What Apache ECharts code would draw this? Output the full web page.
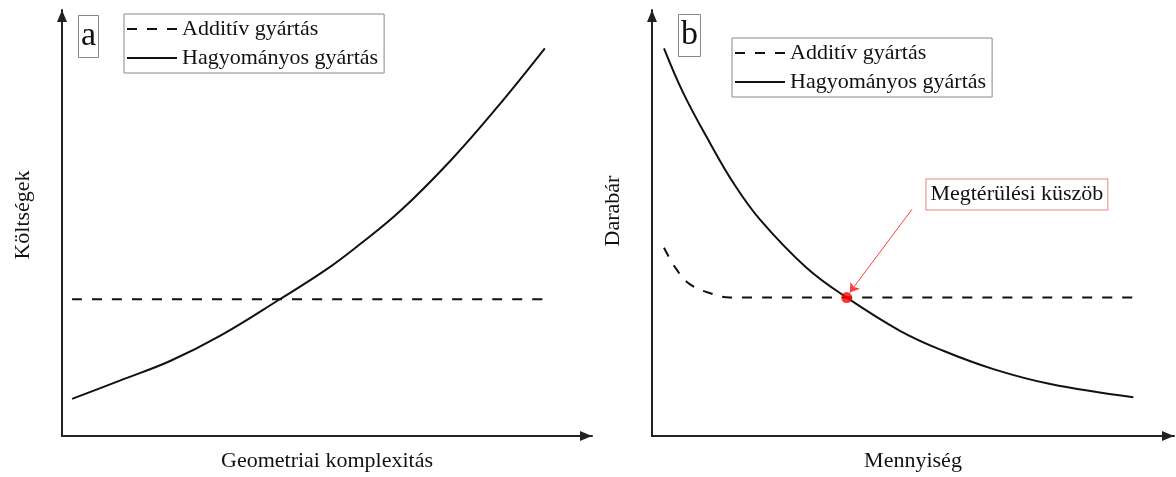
<!DOCTYPE html>
<html>
<head>
<meta charset="utf-8">
<title>Additív és hagyományos gyártás</title>
<script src="https://cdn.jsdelivr.net/npm/echarts@6/dist/echarts.min.js"></script>
<style>
  html, body { margin: 0; padding: 0; background: #fff; }
  #chart { width: 1176px; height: 477px; }
</style>
</head>
<body>
<div id="chart"></div>
<script>
// Series names (shared by both panels)
const seriesNames = ['Additív gyártás', 'Hagyományos gyártás'];
const panelLabels = ['a', 'b'];
const axisTitlesX = ['Geometriai komplexitás', 'Mennyiség'];
const axisTitlesY = ['Költségek', 'Darabár'];
const breakEvenLabel = 'Megtérülési küszöb';

// Panel a: cost vs. geometric complexity (relative units 0–100)
const aHagyX = [1.9, 10.9, 20.4, 29.8, 41.1, 49.9, 56.2, 63.8, 73.2, 82.0, 91.1];
const aHagyY = [8.7, 13.0, 17.6, 23.5, 32.1, 39.1, 45.0, 52.8, 64.5, 77.0, 91.0];
const aAddX = [1.9, 91.1];
const aAddY = [32.1, 32.1];

// Panel b: unit price vs. quantity (relative units 0–100)
const bHagyX = [2.3, 6.0, 11.1, 15.6, 20.7, 29.6, 37.3, 47.5, 55.8, 65.4, 76.3, 92.2];
const bHagyY = [91.0, 80.5, 68.8, 59.4, 50.8, 39.5, 32.5, 24.7, 20.0, 15.7, 12.2, 9.1];
const bAddX = [2.3, 4.7, 7.3, 11.7, 14.9, 92.2];
const bAddY = [44.2, 39.1, 35.6, 33.3, 32.5, 32.5];

// Break-even point and the pointer arrow leading to it
const breakEven = [37.3, 32.5];
const arrowFrom = [49.8, 53.2];
const arrowTo = [37.9, 33.7];
const labelAt = [69.9, 56.7];

const zip = (xs, ys) => xs.map((x, i) => [x, ys[i]]);

const FONT = '"Liberation Serif", "DejaVu Serif", serif';
const INK = '#111';
// solid triangular arrow head for the axis ends
const HEAD = 'path://M5 0 L10 12 L0 12 Z';

function axisPair(idx) {
  const line = {
    show: true,
    symbol: ['none', HEAD],
    symbolSize: [12, 12],
    symbolOffset: [0, -6],
    lineStyle: { color: '#222', width: 2 }
  };
  const common = {
    type: 'value', gridIndex: idx, min: 0, max: 100,
    axisLine: line, axisTick: { show: false }, axisLabel: { show: false },
    splitLine: { show: false }
  };
  return {
    x: Object.assign({}, common, {
      name: axisTitlesX[idx], nameLocation: 'middle', nameGap: 14,
      nameTextStyle: { fontFamily: FONT, fontSize: 22, color: INK, verticalAlign: 'top' }
    }),
    y: Object.assign({}, common, {
      name: axisTitlesY[idx], nameLocation: 'middle', nameGap: 28, nameRotate: 90,
      nameTextStyle: { fontFamily: FONT, fontSize: 22, color: INK, padding: [0, 0, 0, idx === 0 ? 16 : 24] }
    })
  };
}
const axA = axisPair(0), axB = axisPair(1);

function lineSeries(name, idx, data, dashed) {
  return {
    name: name, type: 'line', xAxisIndex: idx, yAxisIndex: idx,
    data: data, symbol: 'none', smooth: 0.4,
    lineStyle: { color: INK, width: 2, type: dashed ? [10, 10] : 'solid' },
    itemStyle: { color: INK },
    silent: true, z: 3
  };
}

function legendAt(left, top) {
  return {
    orient: 'vertical', left: left, top: top,
    data: seriesNames,
    itemWidth: 50, itemHeight: 14, itemGap: 5,
    padding: [3, 6, 3, 2],
    borderColor: '#888', borderWidth: 1,
    selectedMode: false,
    // line-only keys: hide the marker dot drawn on top of the line sample
    itemStyle: { color: 'rgba(0,0,0,0)', borderWidth: 0, opacity: 0 },
    textStyle: { fontFamily: FONT, fontSize: 22, color: INK, lineHeight: 24 }
  };
}

function panelTitle(text, left, top) {
  return {
    text: text, left: left, top: top,
    padding: [1, 3, 1, 3],
    borderColor: '#888', borderWidth: 1,
    textStyle: { fontFamily: FONT, fontSize: 34, fontWeight: 'normal', color: INK, lineHeight: 41 }
  };
}

const option = {
  backgroundColor: '#fff',
  animation: false,
  title: [panelTitle(panelLabels[0], 78, 15), panelTitle(panelLabels[1], 678, 14)],
  legend: [legendAt(124, 14), legendAt(732, 38)],
  grid: [
    { left: 62, right: 584, top: 10, bottom: 40 },
    { left: 652, right: 2, top: 10, bottom: 40 }
  ],
  xAxis: [axA.x, axB.x],
  yAxis: [axA.y, axB.y],
  series: [
    lineSeries(seriesNames[0], 0, zip(aAddX, aAddY), true),
    lineSeries(seriesNames[1], 0, zip(aHagyX, aHagyY), false),
    lineSeries(seriesNames[0], 1, zip(bAddX, bAddY), true),
    lineSeries(seriesNames[1], 1, zip(bHagyX, bHagyY), false),
    {
      name: breakEvenLabel, type: 'scatter', xAxisIndex: 1, yAxisIndex: 1,
      data: [breakEven], symbolSize: 11, itemStyle: { color: '#ff0000' },
      silent: true, z: 5,
      markLine: {
        silent: true, symbol: ['none', 'arrow'], symbolSize: 9,
        lineStyle: { color: '#ff3b3b', width: 1, type: 'solid' },
        label: { show: false },
        data: [[{ coord: arrowFrom }, { coord: arrowTo }]]
      },
      markPoint: {
        silent: true, symbol: 'rect', symbolSize: 0,
        data: [{ coord: labelAt, value: breakEvenLabel }],
        label: {
          show: true, position: 'inside', formatter: breakEvenLabel,
          fontFamily: FONT, fontSize: 22, color: INK, lineHeight: 26,
          backgroundColor: '#fff', borderColor: '#f08080', borderWidth: 1,
          padding: [2, 4, 2, 4]
        }
      }
    }
  ]
};

const chart = echarts.init(document.getElementById('chart'), null, { renderer: 'canvas' });
chart.setOption(option);
</script>
</body>
</html>
